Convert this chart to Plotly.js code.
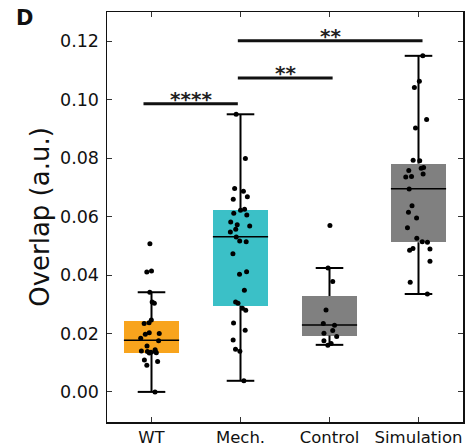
<!DOCTYPE html>
<html>
<head>
<meta charset="utf-8">
<script src="https://cdn.plot.ly/plotly-3.0.1.min.js"></script>
<style>html,body{margin:0;padding:0;background:#fff;}</style>
</head>
<body>
<div id="chart" style="width:470px;height:446px;"></div>
<script>
// ---- data ----
var categories = ['WT', 'Mech.', 'Control', 'Simulation'];

var wtValues = [0.0507, 0.0414, 0.0410, 0.0341, 0.0308, 0.0303, 0.0246, 0.0237, 0.0234,
  0.0202, 0.0197, 0.0200, 0.0184, 0.0175, 0.0157, 0.0144, 0.0138, 0.0134, 0.0136,
  0.0140, 0.0133, 0.0137, 0.0109, 0.0104, 0.0091, 0.0000];
var mechValues = [0.0950, 0.0799, 0.0696, 0.0687, 0.0659, 0.0668, 0.0622, 0.0625, 0.0611,
  0.0605, 0.0581, 0.0572, 0.0568, 0.0557, 0.0547, 0.0530, 0.0514, 0.0516, 0.0473,
  0.0411, 0.0403, 0.0348, 0.0308, 0.0303, 0.0286, 0.0279, 0.0236, 0.0211, 0.0178,
  0.0146, 0.0139, 0.0038];
var controlValues = [0.0569, 0.0424, 0.0378, 0.0280, 0.0228, 0.0234, 0.0210, 0.0201,
  0.0190, 0.0175, 0.0166, 0.0160];
var simValues = [0.1150, 0.1063, 0.1042, 0.0932, 0.0903, 0.0791, 0.0793, 0.0765, 0.0768,
  0.0758, 0.0746, 0.0735, 0.0737, 0.0694, 0.0637, 0.0615, 0.0595, 0.0562, 0.0526,
  0.0512, 0.0514, 0.0489, 0.0485, 0.0491, 0.0447, 0.0375, 0.0335];

// box statistics (as drawn)
var q1 = [0.0133, 0.0295, 0.0193, 0.0512];
var median = [0.0177, 0.0531, 0.0229, 0.0695];
var q3 = [0.0244, 0.0622, 0.0328, 0.0781];
var lowerWhisker = [0.0000, 0.0038, 0.0161, 0.0335];
var upperWhisker = [0.0341, 0.0950, 0.0424, 0.1150];

// significance comparisons
var compFrom = [0, 1, 1];
var compTo = [1, 2, 3];
var compHeight = [0.0986, 0.1074, 0.1202];
var compLabel = ['****', '**', '**'];

// ---- styles / layout constants ----
var boxColors = ['#F8A41D', '#3BC0C7', '#808080', '#808080'];
var BOXW = 0.62, CAPW = 0.31;
var barStartInset = [-0.09, -0.03, -0.03];
var barEndInset = [-0.03, 0.035, 0.045];

var groups = [wtValues, mechValues, controlValues, simValues];
var idx = categories.map(function (c, i) { return i; });

// boxes (q1..q3) as floating bars
var boxTrace = {
  type: 'bar', x: idx, base: q1,
  y: q3.map(function (v, i) { return v - q1[i]; }),
  width: BOXW, marker: { color: boxColors, line: { width: 0 } },
  hoverinfo: 'skip', showlegend: false
};

// whiskers, caps and medians
var lx = [], ly = [];
idx.forEach(function (i) {
  lx.push(i, i, null, i, i, null);
  ly.push(lowerWhisker[i], q1[i], null, q3[i], upperWhisker[i], null);
  lx.push(i - CAPW / 2, i + CAPW / 2, null, i - CAPW / 2, i + CAPW / 2, null);
  ly.push(lowerWhisker[i], lowerWhisker[i], null, upperWhisker[i], upperWhisker[i], null);
});
var whiskerTrace = {
  type: 'scatter', mode: 'lines', x: lx, y: ly,
  line: { color: '#000', width: 2 }, hoverinfo: 'skip', showlegend: false
};
var mx = [], my = [];
idx.forEach(function (i) {
  mx.push(i - BOXW / 2, i + BOXW / 2, null);
  my.push(median[i], median[i], null);
});
var medianTrace = {
  type: 'scatter', mode: 'lines', x: mx, y: my,
  line: { color: '#000', width: 1.5 }, hoverinfo: 'skip', showlegend: false
};

// jittered sample points
var px = [], py = [];
groups.forEach(function (g, i) {
  g.forEach(function (v) { px.push(i); py.push(v); });
});
var pointsTrace = {
  type: 'box', x: px, y: py, boxpoints: 'all', jitter: 0.5, pointpos: 0,
  width: BOXW, fillcolor: 'rgba(0,0,0,0)', line: { width: 0, color: 'rgba(0,0,0,0)' },
  marker: { color: '#000', size: 5 }, hoverinfo: 'skip', showlegend: false
};

// significance bars
var shapes = [], annotations = [];
compFrom.forEach(function (a, k) {
  var b = compTo[k];
  var x0 = a + barStartInset[k], x1 = b + barEndInset[k];
  shapes.push({
    type: 'line', xref: 'x', yref: 'y',
    x0: x0, x1: x1, y0: compHeight[k], y1: compHeight[k],
    line: { color: '#111', width: 3 }
  });
  annotations.push({
    xref: 'x', yref: 'y', x: (x0 + x1) / 2, y: compHeight[k],
    text: '<b>' + compLabel[k] + '</b>', showarrow: false, yanchor: 'bottom', yshift: -9,
    font: { family: 'DejaVu Sans', size: 20, color: '#222' }
  });
});
annotations.push({
  xref: 'paper', yref: 'paper', x: -0.26, y: 1.0, xanchor: 'left', yanchor: 'top',
  yshift: 8,
  text: '<b>D</b>', showarrow: false,
  font: { family: 'DejaVu Sans', size: 21, color: '#111' }
});

var layout = {
  width: 470, height: 446,
  margin: { l: 107, r: 7, t: 12, b: 24 },
  paper_bgcolor: '#fff', plot_bgcolor: '#fff',
  font: { family: 'DejaVu Sans', color: '#111' },
  showlegend: false,
  bargap: 0,
  xaxis: {
    range: [-0.5, 3.5], tickmode: 'array', tickvals: idx, ticktext: categories,
    ticks: 'inside', ticklen: 5, tickwidth: 1, tickcolor: '#333',
    showline: true, linecolor: '#111', linewidth: 1.5, mirror: 'ticks',
    showgrid: false, zeroline: false, automargin: false,
    tickfont: { family: 'DejaVu Sans', size: 16.5, color: '#111' }
  },
  yaxis: {
    range: [-0.0103, 0.130], tickmode: 'linear', tick0: 0, dtick: 0.02, tickformat: '.2f',
    ticks: 'inside', ticklen: 5, tickwidth: 1, tickcolor: '#333',
    showline: true, linecolor: '#111', linewidth: 1.5, mirror: 'ticks',
    showgrid: false, zeroline: false, automargin: false, ticklabelstandoff: 3,
    tickfont: { family: 'DejaVu Sans', size: 17.5, color: '#111' },
    title: { text: 'Overlap (a.u.)', font: { family: 'DejaVu Sans', size: 26, color: '#111' }, standoff: 3 }
  },
  shapes: shapes,
  annotations: annotations
};

Plotly.newPlot('chart', [boxTrace, whiskerTrace, medianTrace, pointsTrace], layout,
  { displayModeBar: false, staticPlot: true });
</script>
</body>
</html>
